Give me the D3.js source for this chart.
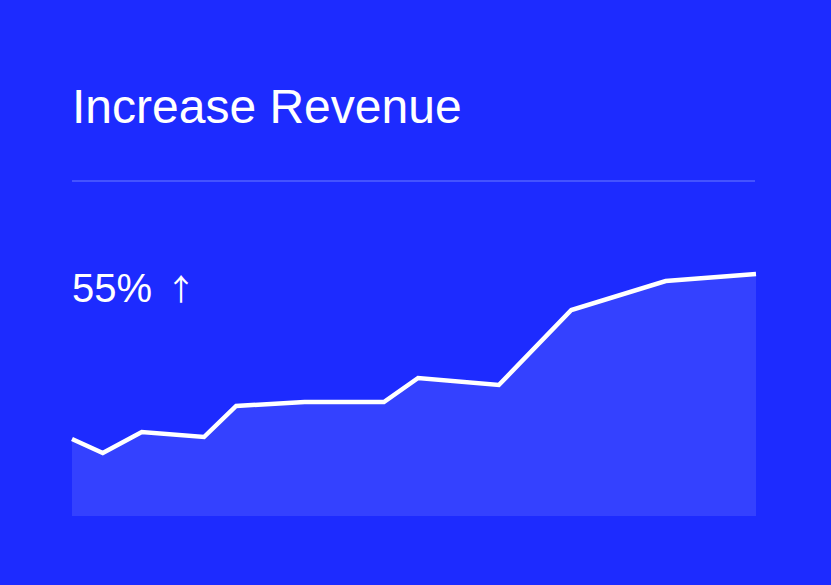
<!DOCTYPE html>
<html>
<head>
<meta charset="utf-8">
<script src="https://cdn.jsdelivr.net/npm/d3@7"></script>
<style>
  html, body { margin: 0; padding: 0; background: #1d2bff; }
  svg { display: block; font-family: "Liberation Sans", Arial, Helvetica, sans-serif; }
</style>
</head>
<body>
<div class="card"></div>
<script>
// period position (% of the year) and revenue index
const periods = [0, 4.5, 10.2, 19.3, 24, 34, 45.6, 50.6, 62.4, 73, 86.8, 100];
const revenue = [77, 63, 84, 79, 110, 114, 114, 138, 131, 206, 235, 242];
const title = "Increase Revenue";
const changeValue = "55%";
const changeArrow = "\u2191";

const w = 831;
const h = 585;
const left = 72;
const right = 756;
const bottom = 516;

const x = d3.scaleLinear()
    .domain([0, 100])
    .range([left, right]);

const y = d3.scaleLinear()
    .domain([0, 250])
    .range([bottom, bottom - 250]);

const data = periods.map((p, i) => ({ p: p, v: revenue[i] }));

const svg = d3.select(".card")
    .append("svg")
    .attr("width", w)
    .attr("height", h);

svg.append("rect")
    .attr("width", w)
    .attr("height", h)
    .attr("fill", "#1d2bff");

svg.append("text")
    .attr("x", left)
    .attr("y", 123)
    .attr("fill", "#fff")
    .style("font-size", "48px")
    .text(title);

svg.append("line")
    .attr("x1", left)
    .attr("x2", right - 1)
    .attr("y1", 181)
    .attr("y2", 181)
    .attr("stroke", "#4453ff")
    .attr("stroke-width", 2);

const area = d3.area()
    .x(d => x(d.p))
    .y0(y(0))
    .y1(d => y(d.v));

const line = d3.line()
    .x(d => x(d.p))
    .y(d => y(d.v));

svg.append("path")
    .datum(data)
    .attr("d", area)
    .attr("fill", "#3441ff");

svg.append("path")
    .datum(data)
    .attr("d", line)
    .attr("fill", "none")
    .attr("stroke", "#fff")
    .attr("stroke-width", 4.5);

const change = svg.append("text")
    .attr("x", left)
    .attr("y", 302)
    .attr("fill", "#fff")
    .style("font-size", "40px");

change.append("tspan").text(changeValue);

change.append("tspan")
    .attr("x", 166)
    .attr("y", 300)
    .style("font-family", "'Noto Sans CJK JP'")
    .style("font-size", "30px")
    .text(changeArrow);
</script>
</body>
</html>
